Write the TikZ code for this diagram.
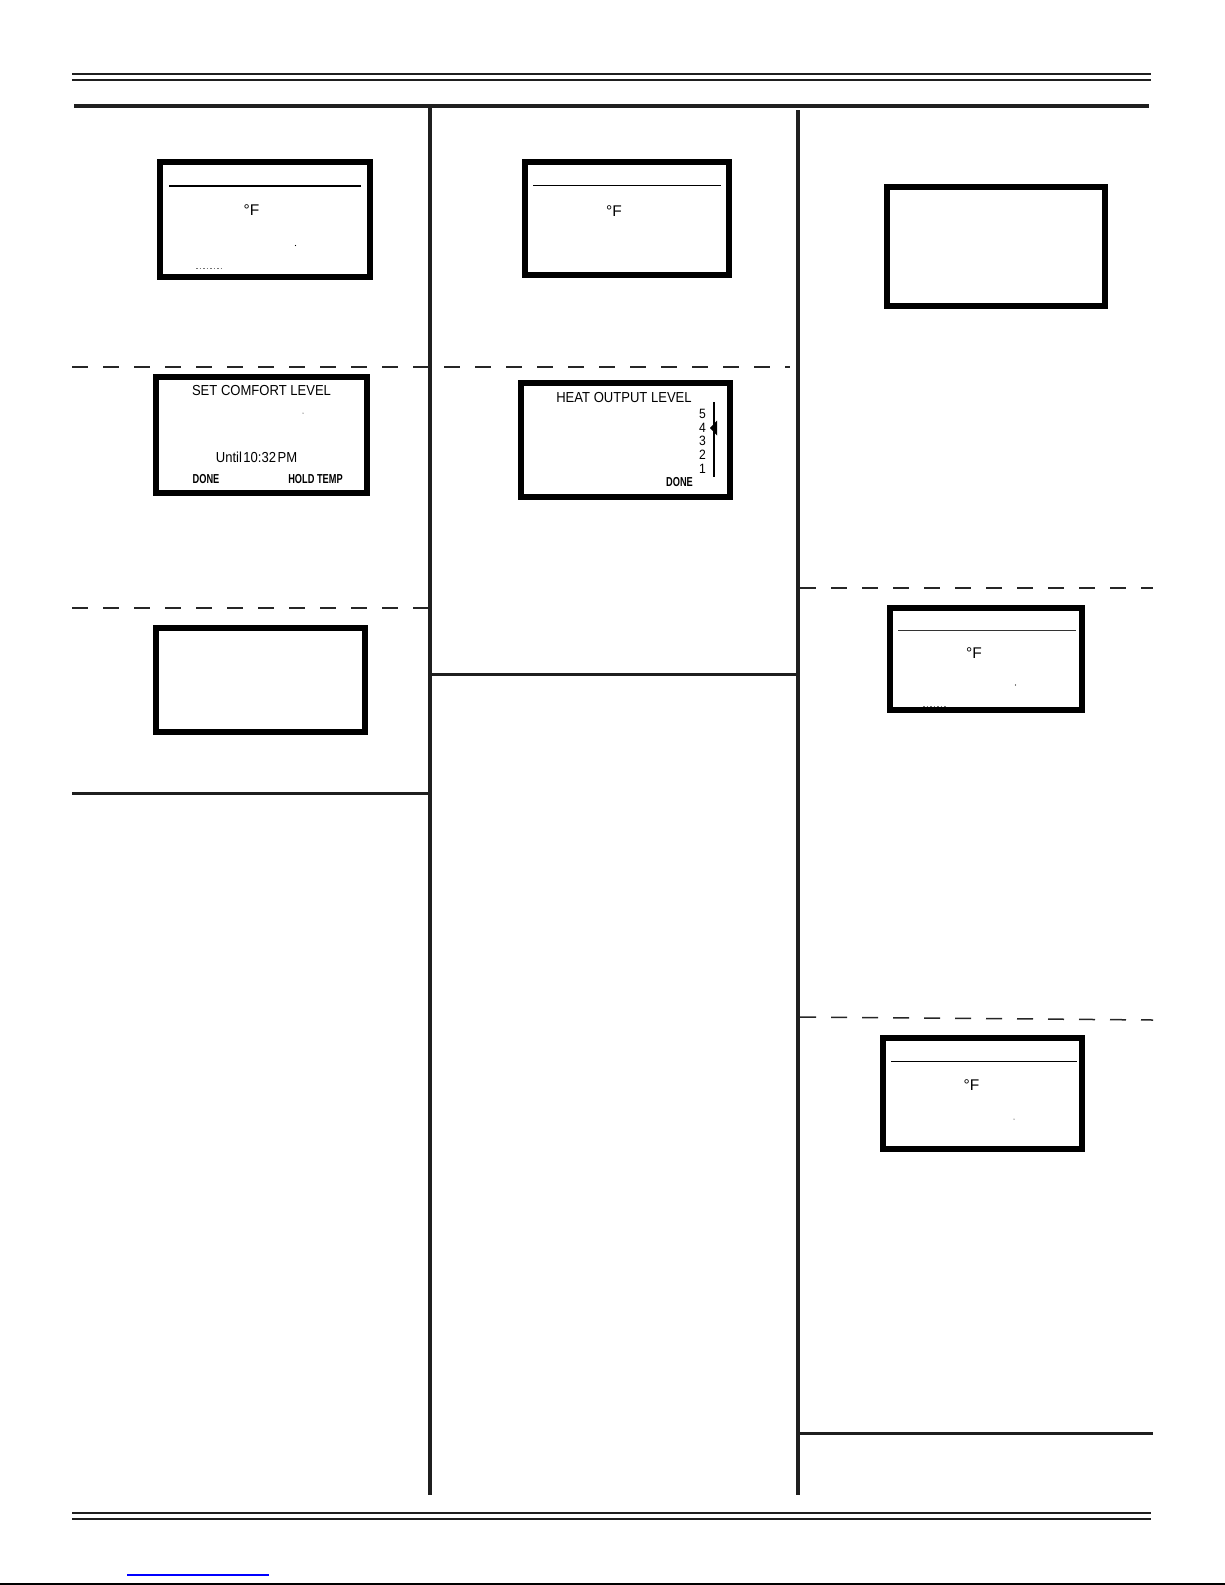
\documentclass[tikz,border=0pt]{standalone}
\usepackage{fontspec}
\setmainfont{Liberation Sans}
\newfontfamily\lcdnarrowfont[FakeStretch=0.9]{Liberation Sans}
\newfontfamily\lcdcondfont[FakeStretch=0.71]{Liberation Sans}
\newcommand\lcdsize{\lcdnarrowfont\fontsize{14.5pt}{14.5pt}\selectfont}
\newcommand\degsize{\fontsize{15.5pt}{15.5pt}\selectfont}
\newcommand\numsize{\lcdnarrowfont\fontsize{13.5pt}{13.5pt}\selectfont}
\newcommand\softkey{\lcdcondfont\bfseries\fontsize{13pt}{13pt}\selectfont}
\begin{document}
\begin{tikzpicture}[x=1pt,y=-1pt,
  lcdframe/.style={draw=black, line width=6pt, rectangle, inner sep=0pt, outer sep=0pt},
  thinrule/.style={line width=1.3pt, black!88},
  heavyrule/.style={line width=3.6pt, black!88},
  colrule/.style={line width=4pt, black!88},
  dashrule/.style={line width=1.5pt, black!85, dash pattern=on 16pt off 15pt},
  lcdline/.style={line width=1.4pt},
  lcdtxt/.style={inner sep=0pt, font=\lcdsize},
  degtxt/.style={inner sep=0pt, font=\degsize},
  numtxt/.style={inner sep=0pt, font=\numsize},
  keytxt/.style={inner sep=0pt, font=\softkey},
  speck/.style={fill=black, circle, inner sep=0pt, minimum size=1.3pt},
  faint/.style={draw=black!55, line width=0.8pt, dash pattern=on 1.5pt off 2pt}
]
\useasboundingbox (0,0) rectangle (1225,1585);

% header and footer rules
\coordinate (hA1) at (72,74);   \coordinate (hA2) at (1151,74);
\coordinate (hB1) at (72,80);   \coordinate (hB2) at (1151,80);
\coordinate (hC1) at (74,106);  \coordinate (hC2) at (1149,106);
\draw[thinrule] (hA1) -- (hA2);
\draw[thinrule] (hB1) -- (hB2);
\draw[heavyrule] (hC1) -- (hC2);
\coordinate (fA1) at (72,1513); \coordinate (fA2) at (1151,1513);
\coordinate (fB1) at (72,1519); \coordinate (fB2) at (1151,1519);
\draw[thinrule] (fA1) -- (fA2);
\draw[thinrule] (fB1) -- (fB2);
\coordinate (link1) at (127,1575); \coordinate (link2) at (269,1575);
\draw[line width=1.4pt, blue] (link1) -- (link2);
\coordinate (edge1) at (0,1584); \coordinate (edge2) at (1225,1584);
\draw[line width=1.4pt, black] (edge1) -- (edge2);

% column dividers
\coordinate (v1a) at (430,108); \coordinate (v1b) at (430,1495);
\coordinate (v2a) at (798,110); \coordinate (v2b) at (798,1495);
\draw[colrule] (v1a) -- (v1b);
\draw[colrule] (v2a) -- (v2b);

% section rules
\coordinate (sL1) at (72,793);  \coordinate (sL2) at (428,793);
\coordinate (sM1) at (432,674); \coordinate (sM2) at (796,674);
\coordinate (sR1) at (800,1433); \coordinate (sR2) at (1153,1433);
\draw[heavyrule, line width=3pt] (sL1) -- (sL2);
\draw[heavyrule, line width=3pt] (sM1) -- (sM2);
\draw[heavyrule, line width=3pt] (sR1) -- (sR2);

% dashed separators
\coordinate (d1a) at (72,367);  \coordinate (d1b) at (790,367);
\coordinate (d2a) at (72,608);  \coordinate (d2b) at (428,608);
\coordinate (d3a) at (800,588); \coordinate (d3b) at (1153,588);
\coordinate (d4a) at (800,1017); \coordinate (d4b) at (1153,1020);
\draw[dashrule] (d1a) -- (d1b);
\draw[dashrule] (d2a) -- (d2b);
\draw[dashrule] (d3a) -- (d3b);
\draw[dashrule] (d4a) -- (d4b);

% ---------- display 1 (left top)
\node[lcdframe, minimum width=210.3pt, minimum height=115.3pt] (b1) at (264.9,219.4) {};
\coordinate (b1l1) at (169,186); \coordinate (b1l2) at (361,186);
\draw[lcdline] (b1l1) -- (b1l2);
\node[degtxt] (b1deg) at (251.5,210.5) {°F};
\node[speck] (b1dot) at (295.5,245.5) {};
\coordinate (b1f1) at (196,268); \coordinate (b1f2) at (222,268);
\draw[faint] (b1f1) -- (b1f2);

% ---------- display 2 (middle top)
\node[lcdframe, minimum width=204.3pt, minimum height=113.3pt] (b2) at (626.7,218.4) {};
\coordinate (b2l1) at (533,185.5); \coordinate (b2l2) at (721,185.5);
\draw[lcdline] (b2l1) -- (b2l2);
\node[degtxt] (b2deg) at (614,211) {°F};

% ---------- display 3 (set comfort level)
\node[lcdframe, minimum width=211.4pt, minimum height=116pt] (b3) at (261.3,435) {};
\node[lcdtxt] (b3t) at (261.5,391) {SET COMFORT LEVEL};
\node[speck, minimum size=1pt] (b3dot) at (303,413) {};
\node[lcdtxt] (b3u) at (256.5,457) {Until\kern1.5pt10:32\kern1.5pt PM};
\node[keytxt] (b3done) at (206,479) {DONE};
\node[keytxt] (b3hold) at (315.5,479) {HOLD TEMP};

% ---------- display 4 (heat output level)
\node[lcdframe, minimum width=209.3pt, minimum height=114pt] (b4) at (625.2,440) {};
\node[lcdtxt] (b4t) at (624,398) {HEAT OUTPUT LEVEL};
\node[numtxt] (n5) at (702.5,413.5) {5};
\node[numtxt] (n4) at (702.5,427.4) {4};
\node[numtxt] (n3) at (702.5,441.3) {3};
\node[numtxt] (n2) at (702.5,455.1) {2};
\node[numtxt] (n1) at (702.5,469) {1};
\coordinate (scaleTop) at (714,402); \coordinate (scaleBot) at (714,477);
\draw[line width=1.3pt] (scaleTop) -- (scaleBot);
\coordinate (triTip) at (710,428); \coordinate (triA) at (717,420.5); \coordinate (triB) at (717,435.5);
\fill (triTip) -- (triA) -- (triB) -- cycle;
\node[keytxt] (b4done) at (679.5,482.5) {DONE};

% ---------- display 5 (left, empty)
\node[lcdframe, minimum width=209.4pt, minimum height=104.2pt] (b5) at (260.3,679.7) {};

% ---------- display 6 (right top, empty)
\node[lcdframe, minimum width=217.7pt, minimum height=119.3pt] (b6) at (995.9,246.7) {};

% ---------- display 7 (right middle)
\node[lcdframe, minimum width=192.5pt, minimum height=102pt] (b7) at (985.8,659) {};
\coordinate (b7l1) at (898,630.5); \coordinate (b7l2) at (1076,630.5);
\draw[lcdline, black!80] (b7l1) -- (b7l2);
\node[degtxt] (b7deg) at (974,653) {°F};
\node[speck] (b7dot) at (1015.5,685) {};
\coordinate (b7f1) at (923,706); \coordinate (b7f2) at (947,706);
\draw[faint] (b7f1) -- (b7f2);

% ---------- display 8 (right lower)
\node[lcdframe, minimum width=199pt, minimum height=111pt] (b8) at (982.5,1093.5) {};
\coordinate (b8l1) at (891,1061.5); \coordinate (b8l2) at (1077,1061.5);
\draw[lcdline] (b8l1) -- (b8l2);
\node[degtxt] (b8deg) at (971.5,1085.5) {°F};
\node[speck, minimum size=1pt] (b8dot) at (1014,1119) {};
\end{tikzpicture}
\end{document}
